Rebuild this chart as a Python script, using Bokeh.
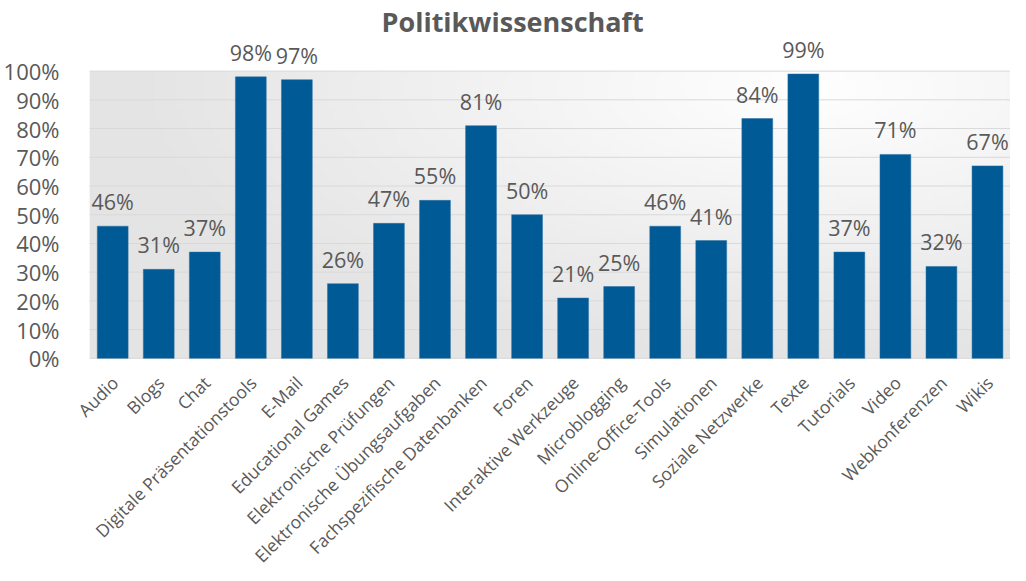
import numpy as np
from bokeh.plotting import figure
from bokeh.models import ColumnDataSource, FixedTicker, NumeralTickFormatter, Range1d
from bokeh.core.properties import value
from bokeh.embed import file_html
from bokeh.resources import INLINE

categories = ["Audio", "Blogs", "Chat", "Digitale Präsentationstools", "E-Mail",
              "Educational Games", "Elektronische Prüfungen", "Elektronische Übungsaufgaben",
              "Fachspezifische Datenbanken", "Foren", "Interaktive Werkzeuge", "Microblogging",
              "Online-Office-Tools", "Simulationen", "Soziale Netzwerke", "Texte", "Tutorials",
              "Video", "Webkonferenzen", "Wikis"]
values = [0.46, 0.31, 0.37, 0.98, 0.97, 0.26, 0.47, 0.55, 0.81, 0.50,
          0.21, 0.25, 0.46, 0.41, 0.835, 0.99, 0.37, 0.71, 0.32, 0.67]
labels = [f"{round(v*100):.0f}%" for v in values]
y_ticks = [i / 10 for i in range(11)]

TEXT = "#595959"
BAR = "#005A96"
FONT = "Open Sans"

n = len(categories)
pos = list(range(n))  # category slots
src = ColumnDataSource(dict(x=pos, cat=categories, val=values, lab=labels, zero=[0] * n))

p = figure(width=1010, height=565, x_range=Range1d(-0.96, n - 0.5),
           y_range=Range1d(-0.721, 1.110), output_backend="svg", toolbar_location=None,
           x_axis_location=None, min_border=0,
           min_border_left=62, min_border_right=0, min_border_bottom=0, min_border_top=0,
           title="Politikwissenschaft")
p.title.text_font = FONT
p.title.text_font_style = "bold"
p.title.text_font_size = "27px"
p.title.text_color = TEXT
p.title.align = "left"
p.title.offset = 313
p.title.standoff = 0

p.background_fill_color = "white"
p.border_fill_color = "white"
p.outline_line_color = None

# background gradient (style only) limited to the plot area 0..1
ny, nx = 60, 200
yy, xx = np.mgrid[0:ny, 0:nx]
fx = xx / (nx - 1)
fy = yy / (ny - 1)
d = np.sqrt(((fx - 0.78) * 1.3) ** 2 + (fy - 0.95) ** 2)
g = np.clip(255 - d * 28, 228, 255).astype(np.uint32)
img = (255 << 24) | (g << 16) | (g << 8) | g
p.image_rgba(image=[img.view(np.uint32)], x=-0.5, y=0, dw=n, dh=1.0)

# horizontal gridlines across the plot area
p.segment(x0=[-0.5] * len(y_ticks), x1=[n - 0.5] * len(y_ticks), y0=y_ticks, y1=y_ticks,
          line_color="#d9d9d9", line_width=1)

p.vbar(x="x", top="val", width=0.67, source=src, fill_color=BAR, line_color="#2c6fa3", line_width=0.5)

p.text(x="x", y="val", text="lab", source=src, text_align="center", text_baseline="bottom",
       y_offset=-10, text_font=value(FONT), text_font_size="21.5px", text_color=TEXT)

# category labels, rotated 45 degrees, below the baseline
p.text(x="x", y="zero", text="cat", source=src, angle=np.pi / 4,
       text_align="right", text_baseline="middle", x_offset=2, y_offset=21,
       text_font=value(FONT), text_font_size="17.5px", text_color=TEXT)

p.yaxis.ticker = FixedTicker(ticks=y_ticks)
p.yaxis.formatter = NumeralTickFormatter(format="0%")
p.yaxis.axis_line_color = None
p.yaxis.major_tick_line_color = None
p.yaxis.minor_tick_line_color = None
p.yaxis.major_label_standoff = 3
p.yaxis.major_label_text_font = FONT
p.yaxis.major_label_text_font_size = "22px"
p.yaxis.major_label_text_color = TEXT

p.xgrid.grid_line_color = None
p.ygrid.grid_line_color = None

open("out.html", "w").write(file_html(p, INLINE))
